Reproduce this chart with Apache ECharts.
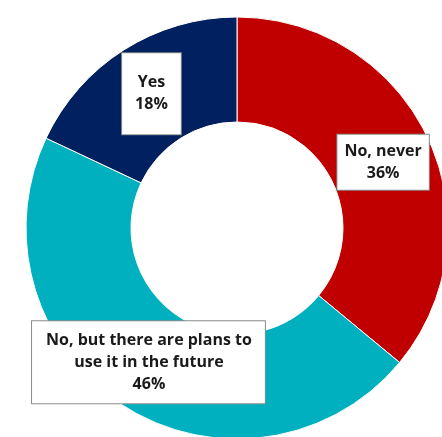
<!DOCTYPE html>
<html><head><meta charset="utf-8">
<script src="https://cdn.jsdelivr.net/npm/echarts@6/dist/echarts.min.js"></script>
<style>html,body{margin:0;padding:0;background:#fff}#c{width:442px;height:437px}</style>
</head><body><div id="c"></div>
<script>
const categories = ["No, never", "No, but there are plans to\nuse it in the future", "Yes"];
const values = [36, 46, 18];
const colors = ["#C00000", "#00B0BE", "#002060"];
const labelPadding = [[5, 7, 6, 7], [8, 13, 8, 14], [18, 13, 19, 13]];
const labelShift = [[0, 3], [-2, -2], [1, 2]];
const chart = echarts.init(document.getElementById('c'));
chart.setOption({
  animation: false,
  series: [{
    type: 'pie',
    center: [237, 228],
    radius: [106, 211],
    startAngle: 90,
    clockwise: true,
    data: categories.map((c, i) => ({
      name: c, value: values[i],
      itemStyle: {color: colors[i]},
      label: {padding: labelPadding[i]}
    })),
    itemStyle: {borderColor: '#ffffff', borderWidth: 1},
    label: {
      show: true,
      position: 'inside',
      formatter: p => p.name + '\n' + p.value + '%',
      fontFamily: 'Open Sans',
      fontWeight: 'bold',
      fontSize: 16,
      lineHeight: 22,
      color: '#1a1a1a',
      backgroundColor: '#fff',
      borderColor: '#8c8c8c',
      borderWidth: 1,
      align: 'center'
    },
    labelLayout: p => ({dx: labelShift[p.dataIndex][0], dy: labelShift[p.dataIndex][1]}),
    labelLine: {show: false},
    emphasis: {disabled: true}
  }]
});
</script></body></html>
